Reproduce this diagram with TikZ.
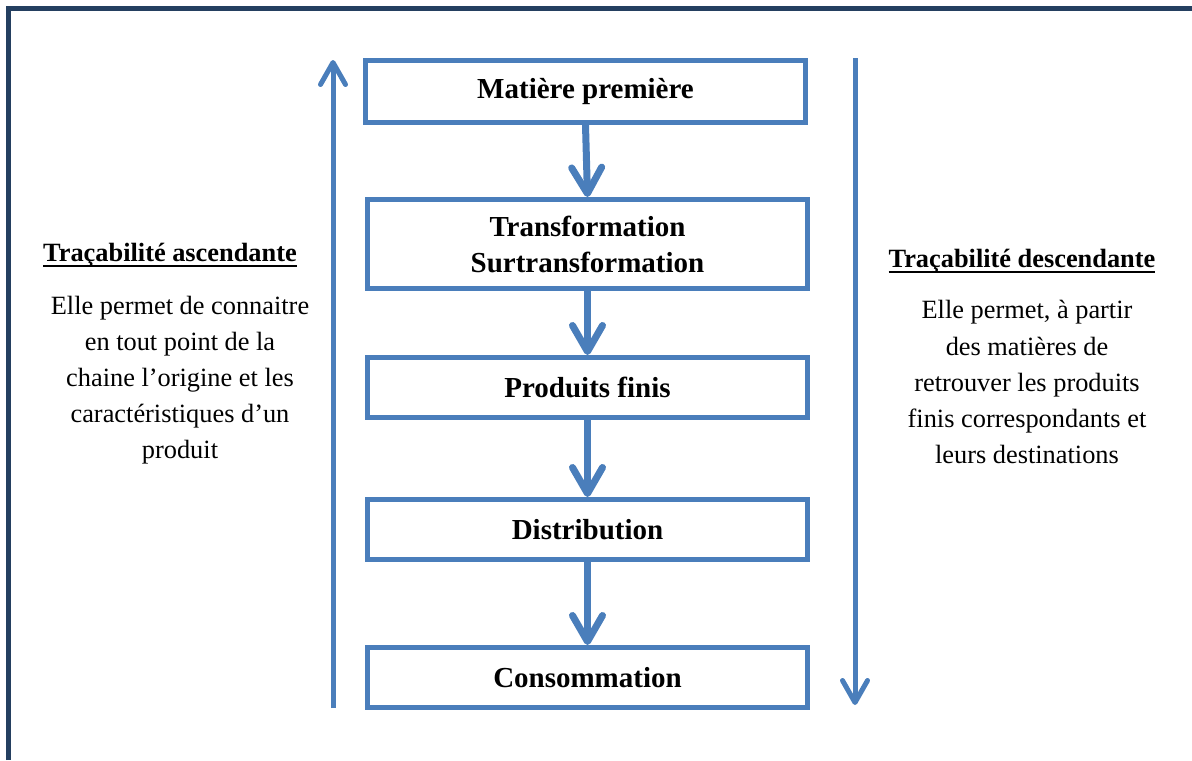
\documentclass[tikz,border=0pt]{standalone}
\usepackage{fontspec}
\setmainfont{Liberation Serif}
\usetikzlibrary{arrows.meta}
\definecolor{bleu}{HTML}{4A7EBB}
\definecolor{marine}{HTML}{243F60}
\newsavebox{\boitesoul}
\newcommand{\souligne}[1]{\sbox{\boitesoul}{#1}\rlap{\rule[-3.2pt]{\wd\boitesoul}{1.3pt}}\usebox{\boitesoul}}
\tikzset{
	etape/.style={draw=bleu, line width=0.1cm, minimum width=8.8cm, minimum height=1.24cm, inner sep=0pt, align=center, font=\fontsize{16.5}{20.5}\selectfont\bfseries},
	titre/.style={font=\fontsize{15}{20.5}\selectfont\bfseries},
	texte/.style={align=center, font=\fontsize{15}{20.5}\selectfont},
	fleche/.style={draw=bleu, line width=0.14cm, -{Straight Barb[length=0.52cm, width=0.6cm, round]}},
	sens/.style={draw=bleu, line width=0.1cm, -{Straight Barb[length=0.44cm, width=0.5cm, round]}}
}
\begin{document}
\begin{tikzpicture}
			\useasboundingbox (0,0) rectangle (23.84,-15.2);
			\draw [marine, line width=0.1cm](0.17,-15.2) -- (0.17,-0.16) -- (23.84,-0.16);

			\node (mp)[etape] at (11.71,-1.83) {Matière première};
			\node (tr)[etape, minimum height=1.78cm] at (11.75,-4.88) {Transformation\\Surtransformation};
			\node (pf)[etape, minimum height=1.2cm] at (11.75,-7.75) {Produits finis};
			\node (di)[etape, minimum height=1.2cm] at (11.75,-10.59) {Distribution};
			\node (co)[etape, minimum height=1.2cm] at (11.75,-13.55) {Consommation};

			\draw [fleche](mp.south) -- (tr.north);
			\draw [fleche](tr.south) -- (pf.north);
			\draw [fleche](pf.south) -- (di.north);
			\draw [fleche](di.south) -- (co.north);

			\coordinate (asc bas) at (6.66,-14.16);
			\coordinate (asc haut) at (6.66,-1.2);
			\coordinate (desc haut) at (17.1,-1.16);
			\coordinate (desc bas) at (17.1,-14.1);
			\draw [sens](asc bas) -- (asc haut);
			\draw [sens](desc haut) -- (desc bas);

			\node (ta)[titre] at (3.4,-5.1) {\souligne{Traçabilité ascendante}};
			\node (ea)[texte] at (3.6,-7.6) {Elle permet de connaitre\\en tout point de la\\chaine l’origine et les\\caractéristiques d’un\\produit};
			\node (td)[titre] at (20.44,-5.22) {\souligne{Traçabilité descendante}};
			\node (ed)[texte] at (20.54,-7.64) {Elle permet, à partir\\des matières de\\retrouver les produits\\finis correspondants et\\leurs destinations};
		\end{tikzpicture}
\end{document}
